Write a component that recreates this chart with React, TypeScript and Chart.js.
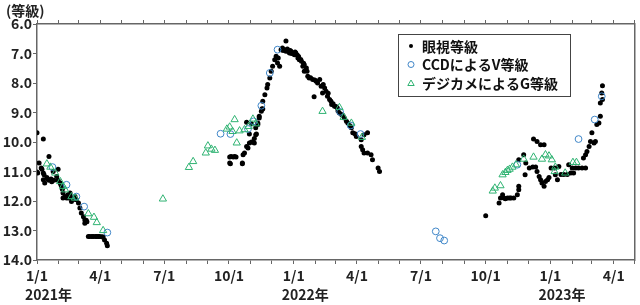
import { useEffect, useRef } from 'react';
import { Chart, registerables } from 'chart.js';
Chart.register(...registerables);

// x = days since 2021-01-01, y = magnitude
const visualObs: [number, number][] = [
  [0, 9.69], [0, 11.02], [1, 11.05], [3, 10.71], [7, 10.92], [6, 10.88], [9, 9.9], [9, 11.05], [10, 11.11], [9, 11.28],
  [11, 11.39], [14, 11.2], [15, 11.25], [17, 10.49], [17, 11.3], [20, 11.25], [21, 11.35], [23, 11.0], [24, 11.3], [28, 11.17],
  [30, 10.92], [30, 11.3], [33, 11.39], [34, 11.45], [35, 11.5], [36, 11.6], [37, 11.73], [37, 11.9], [40, 11.85], [42, 11.9],
  [44, 11.79], [45, 11.9], [47, 11.73], [47, 11.85], [49, 12.02], [50, 11.9], [54, 11.85], [55, 11.95], [56, 11.96], [59, 12.07],
  [61, 12.24], [63, 12.41], [66, 12.53], [68, 12.64], [68, 12.75], [71, 12.7], [70, 12.65], [73, 13.2], [75, 13.2], [78, 13.2],
  [80, 13.2], [83, 13.2], [85, 13.2], [87, 13.2], [89, 13.2], [92, 13.21], [94, 13.22], [96, 13.32], [99, 13.43], [100, 13.52],
  [274, 10.51], [274, 10.71], [275, 10.74], [276, 10.49], [279, 10.51], [281, 10.49], [283, 10.51], [292, 10.71], [292, 10.74], [293, 10.43],
  [295, 10.37], [298, 10.15], [298, 9.33], [300, 10.2], [302, 10.03], [302, 9.73], [305, 10.0], [305, 9.38], [307, 10.0], [309, 10.03],
  [309, 9.88], [311, 9.75], [311, 9.52], [312, 9.73], [314, 9.36], [314, 9.41], [316, 9.19], [316, 9.13], [319, 8.96], [320, 8.87],
  [321, 8.88], [321, 8.62], [324, 8.4], [327, 8.17], [328, 8.05], [331, 7.83], [333, 7.6], [335, 7.43], [338, 7.21], [340, 7.09],
  [342, 7.32], [343, 7.15], [345, 7.43], [347, 6.87], [349, 6.81], [350, 6.9], [352, 6.87], [354, 6.58], [354, 6.92], [356, 6.85],
  [357, 6.92], [359, 6.98], [360, 6.9], [361, 6.92], [362, 7.0], [364, 6.98], [366, 7.04], [367, 6.95], [368, 6.98], [370, 7.05],
  [371, 7.15], [372, 7.1], [373, 7.21], [375, 7.2], [376, 7.26], [378, 7.43], [379, 7.33], [380, 7.38], [380, 7.6], [383, 7.49],
  [384, 7.6], [385, 7.77], [387, 7.83], [389, 7.82], [392, 7.88], [394, 8.47], [395, 7.9], [397, 7.94], [399, 8.0], [402, 7.88],
  [404, 8.11], [406, 8.34], [407, 8.05], [409, 8.17], [411, 8.28], [413, 8.45], [414, 8.35], [416, 8.56], [418, 8.62], [419, 8.73],
  [421, 8.7], [423, 8.79], [425, 8.8], [427, 8.85], [428, 8.95], [430, 9.02], [433, 9.07], [435, 9.1], [437, 9.19], [440, 9.3],
  [442, 9.36], [445, 9.45], [447, 9.52], [449, 9.69], [452, 9.72], [454, 9.81], [461, 9.92], [461, 10.15], [463, 10.26], [465, 10.37],
  [465, 9.75], [470, 10.37], [470, 9.69], [475, 10.43], [477, 10.6], [485, 10.88], [487, 11.0],
  [638, 12.5], [657, 12.07], [659, 11.9], [662, 11.79], [664, 11.9], [666, 11.92], [669, 11.9], [672, 11.9], [674, 11.9], [678, 11.9],
  [683, 11.79], [685, 11.62], [685, 11.5], [685, 10.6], [692, 10.43], [694, 11.11], [695, 10.71], [700, 10.88], [705, 10.85], [706, 9.9],
  [709, 10.85], [711, 11.0], [711, 9.98], [714, 11.17], [716, 11.28], [716, 10.09], [718, 11.39], [721, 11.5], [721, 10.09], [723, 11.34],
  [726, 11.28], [728, 11.2], [731, 10.88], [736, 10.88], [737, 11.11], [740, 11.28], [742, 10.83], [745, 11.1], [749, 11.1], [754, 11.1],
  [756, 10.77], [759, 11.05], [761, 10.88], [763, 11.05], [766, 10.88], [770, 10.88], [775, 10.88], [777, 10.54], [780, 10.88], [780, 10.43],
  [782, 10.32], [785, 10.15], [787, 9.98], [789, 9.69], [792, 10.03], [794, 9.98], [796, 9.41], [799, 9.36], [801, 9.13], [801, 8.68],
  [803, 8.34], [804, 8.56], [804, 8.09],
];

const ccdObs: [number, number][] = [
  [22, 10.85], [42, 11.45], [56, 11.85], [67, 12.19], [100, 13.07],
  [261, 9.72], [275, 9.73], [300, 9.56], [308, 9.3], [319, 8.77],
  [331, 7.66], [342, 6.87], [431, 8.98], [446, 9.44], [460, 9.73],
  [567, 13.03], [573, 13.26], [579, 13.34],
  [683, 10.77], [770, 9.9], [793, 9.24], [803, 8.45],
];

const dslrObs: [number, number][] = [
  [14, 10.74], [19, 10.85], [26, 11.05], [33, 11.34], [37, 11.5], [40, 11.62], [49, 11.85], [54, 11.9], [73, 12.43], [81, 12.55],
  [85, 12.73], [94, 13.0],
  [179, 11.93], [216, 10.86], [222, 10.66], [240, 10.37], [243, 10.13], [248, 10.24], [253, 10.28], [270, 9.56], [274, 9.49],
  [281, 9.24], [278, 9.64], [284, 10.03], [288, 9.62], [295, 9.58], [301, 9.47], [307, 9.22], [311, 9.38],
  [406, 8.96], [430, 8.83], [436, 9.16], [447, 9.36], [462, 9.84],
  [648, 11.66], [651, 11.56], [659, 11.48], [662, 11.11], [666, 11.03], [669, 10.96], [672, 10.92], [676, 10.85], [681, 10.77],
  [692, 10.58], [706, 10.51], [718, 10.58], [723, 10.43], [728, 10.47], [732, 10.6], [737, 10.85], [736, 11.0], [751, 11.05],
  [762, 10.69], [767, 10.69],
];

const seriesNames = ['眼視等級', 'CCDによるV等級', 'デジカメによるG等級'];
const yMin = 6;
const yMax = 14;
const xStartYear = 2021;
const xEndDay = 850; // 2023-05-01
const quarterLabels: Record<number, string> = { 0: '1/1', 3: '4/1', 6: '7/1', 9: '10/1' };
const yearLabels = ['2021年', '2022年', '2023年'];
const axisTitle = '(等級)';

const COLOR_BLUE = '#3f86c8';
const COLOR_GREEN = '#2fb372';
const FONT = "'Noto Sans CJK JP', 'DejaVu Sans', sans-serif";

const DAY_MS = 86400000;
const BASE = Date.UTC(xStartYear, 0, 1);
const monthTicks: { value: number; month: number }[] = [];
for (let y = xStartYear; y <= xStartYear + 2; y++) {
  for (let m = 0; m < 12; m++) {
    const d = (Date.UTC(y, m, 1) - BASE) / DAY_MS;
    if (d <= xEndDay) monthTicks.push({ value: d, month: m });
  }
}
const labelFor = (v: number) => {
  const t = monthTicks.find((mt) => mt.value === v);
  return t && quarterLabels[t.month] !== undefined ? quarterLabels[t.month] : '';
};

const overlayPlugin = {
  id: 'overlay',
  afterDraw(chart: any) {
    const ctx = chart.ctx;
    const xs = chart.scales.x;
    ctx.save();
    ctx.fillStyle = '#222';
    ctx.font = `bold 14px ${FONT}`;
    ctx.textBaseline = 'middle';
    ctx.textAlign = 'left';
    ctx.fillText(axisTitle, 6, 11);
    yearLabels.forEach((t, i) => {
      const d = (Date.UTC(xStartYear + i, 0, 1) - BASE) / DAY_MS;
      ctx.fillText(t, xs.getPixelForValue(d) - 12, 295);
    });
    // legend
    const lx = 398.5, ly = 34.5, lw = 172, lh = 62;
    ctx.fillStyle = '#fff';
    ctx.fillRect(lx, ly, lw, lh);
    ctx.strokeStyle = '#444';
    ctx.lineWidth = 1;
    ctx.strokeRect(lx, ly, lw, lh);
    const rows = [46, 64.5, 83];
    const mx = 411;
    ctx.fillStyle = '#000';
    ctx.beginPath();
    ctx.arc(mx, rows[0], 2, 0, Math.PI * 2);
    ctx.fill();
    ctx.strokeStyle = COLOR_BLUE;
    ctx.beginPath();
    ctx.arc(mx, rows[1], 3, 0, Math.PI * 2);
    ctx.stroke();
    ctx.strokeStyle = COLOR_GREEN;
    ctx.beginPath();
    ctx.moveTo(mx, rows[2] - 3);
    ctx.lineTo(mx + 3.2, rows[2] + 2.5);
    ctx.lineTo(mx - 3.2, rows[2] + 2.5);
    ctx.closePath();
    ctx.stroke();
    ctx.fillStyle = '#111';
    ctx.font = `bold 14px ${FONT}`;
    seriesNames.forEach((n, i) => ctx.fillText(n, 422, rows[i] + 0.5));
    ctx.restore();
  },
};

export default function App() {
  const ref = useRef<HTMLCanvasElement>(null);
  useEffect(() => {
    if (!ref.current) return;
    const axisColor = '#666';
    const tickFont = { family: FONT, size: 14, weight: 'bold' };
    const chart = new Chart(ref.current, {
      type: 'scatter',
      data: {
        datasets: [
          {
            label: seriesNames[2],
            data: dslrObs.map(([x, y]) => ({ x, y })),
            pointStyle: 'triangle',
            pointRadius: 4.2,
            borderColor: COLOR_GREEN,
            backgroundColor: 'rgba(0,0,0,0)',
            borderWidth: 1,
            order: 1,
          },
          {
            label: seriesNames[1],
            data: ccdObs.map(([x, y]) => ({ x, y })),
            pointStyle: 'circle',
            pointRadius: 3.4,
            borderColor: COLOR_BLUE,
            backgroundColor: 'rgba(0,0,0,0)',
            borderWidth: 1,
            order: 2,
          },
          {
            label: seriesNames[0],
            data: visualObs.map(([x, y]) => ({ x, y })),
            pointStyle: 'circle',
            pointRadius: 2.5,
            borderWidth: 0,
            backgroundColor: '#000',
            order: 3,
          },
        ],
      },
      options: {
        responsive: false,
        animation: false,
        layout: { padding: { left: 0, right: 4, top: 0, bottom: 0 } },
        plugins: { legend: { display: false }, tooltip: { enabled: false } },
        scales: {
          x: {
            type: 'linear',
            position: 'bottom',
            min: 0,
            max: xEndDay,
            afterBuildTicks: (s: any) => { s.ticks = monthTicks.map((t) => ({ value: t.value })); },
            afterFit: (s: any) => { s.height = 45; },
            ticks: {
              autoSkip: false,
              maxRotation: 0,
              padding: 3,
              color: '#222',
              font: tickFont,
              callback: (v: any) => labelFor(Number(v)),
            },
            grid: { drawOnChartArea: false, drawTicks: true, tickLength: 4, color: axisColor },
            border: { display: true, color: axisColor, width: 1.5 },
          },
          x2: {
            type: 'linear',
            position: 'top',
            min: 0,
            max: xEndDay,
            afterBuildTicks: (s: any) => { s.ticks = monthTicks.map((t) => ({ value: t.value })); },
            afterFit: (s: any) => { s.height = 24; },
            ticks: { display: false, autoSkip: false },
            grid: { drawOnChartArea: false, drawTicks: true, tickLength: 4, color: axisColor },
            border: { display: true, color: axisColor, width: 1.5 },
          },
          y: {
            type: 'linear',
            reverse: true,
            min: yMin,
            max: yMax,
            afterFit: (s: any) => { s.width = 37; },
            ticks: {
              stepSize: 1,
              padding: 1,
              color: '#222',
              font: tickFont,
              callback: (v: any) => Number(v).toFixed(1),
            },
            grid: { drawOnChartArea: false, drawTicks: true, tickLength: 4, color: axisColor },
            border: { display: true, color: axisColor, width: 1.5 },
          },
          y2: {
            type: 'linear',
            position: 'right',
            reverse: true,
            min: yMin,
            max: yMax,
            afterFit: (s: any) => { s.width = 0; },
            ticks: { display: false },
            grid: { drawOnChartArea: false, drawTicks: false },
            border: { display: true, color: axisColor, width: 1.5 },
          },
        },
      },
      plugins: [overlayPlugin],
    } as any);
    return () => chart.destroy();
  }, []);
  return (
    <div style={{ position: 'fixed', left: 0, top: 0, width: 640, height: 305, background: '#fff' }}>
      <canvas ref={ref} width={640} height={305} style={{ display: 'block' }} />
    </div>
  );
}
